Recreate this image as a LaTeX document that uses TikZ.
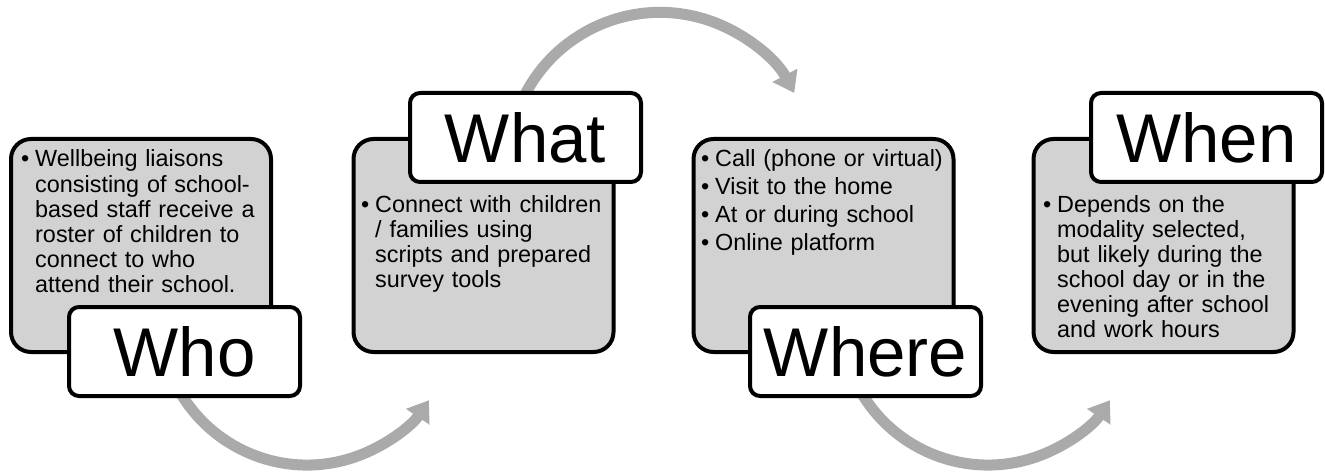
\documentclass[tikz,border=0pt]{standalone}
\usepackage{fontspec}
\setmainfont{Liberation Sans}
\usetikzlibrary{arrows.meta}
\definecolor{boxgray}{RGB}{210,210,210}
\definecolor{arrowgray}{RGB}{170,170,170}
\newcommand\mybullet{\leavevmode\llap{\textbullet\hspace{6pt}}}
\begin{document}
\begin{tikzpicture}[x=1pt,y=1pt,
  panel/.style={draw=black, line width=4pt, fill=boxgray, rounded corners=20pt, minimum width=260pt, minimum height=213pt, inner sep=0pt},
  tag/.style={draw=black, line width=4pt, fill=white, rounded corners=10pt, minimum width=231pt, minimum height=89pt, inner sep=0pt, font=\fontsize{69}{69}\selectfont},
  body/.style={anchor=base west, inner sep=0pt, text width=245pt, align=left, font=\fontsize{23.4}{25.2}\selectfont},
  loop/.style={draw=arrowgray, line width=11pt, -{Triangle[length=20pt,width=27pt]}}]
\useasboundingbox (0,0) rectangle (1325,472);
% connectors (drawn first, partly hidden by the boxes)
\coordinate (a1) at (168.9,103.7);
\coordinate (a2) at (517.2,359.6);
\coordinate (a3) at (849.9,103.7);
\draw[loop] (a1) arc[start angle=200, end angle=326, radius=147];
\draw[loop] (a2) arc[start angle=160, end angle=28, radius=152];
\draw[loop] (a3) arc[start angle=200, end angle=326, radius=147];
% panels
\node[panel] (p1) at (141,226.5) {};
\node[panel] (p2) at (483.5,226.5) {};
\node[panel] (p3) at (823.5,226.5) {};
\node[panel] (p4) at (1163.5,226.5) {};
% texts
\node[body] (t1) at (35,305) {\mybullet Wellbeing liaisons\\consisting of school-\\based staff receive a\\roster of children to\\connect to who\\attend their school.};
\node[body] (t2) at (375,260) {\mybullet Connect with children\\/ families using\\scripts and prepared\\survey tools};
\node[body] (t3) at (715,305) {\mybullet Call (phone or virtual)\\[2.8pt]\mybullet Visit to the home\\[2.8pt]\mybullet At or during school\\[2.8pt]\mybullet Online platform};
\node[body] (t4) at (1057,260) {\mybullet Depends on the\\modality selected,\\but likely during the\\school day or in the\\evening after school\\and work hours};
% labels
\node[tag] (l1) at (184.5,120.5) {Who};
\node[tag] (l2) at (525.5,334.5) {What};
\node[tag] (l3) at (865.5,120.5) {Where};
\node[tag] (l4) at (1206.5,334.5) {When};
\end{tikzpicture}
\end{document}
